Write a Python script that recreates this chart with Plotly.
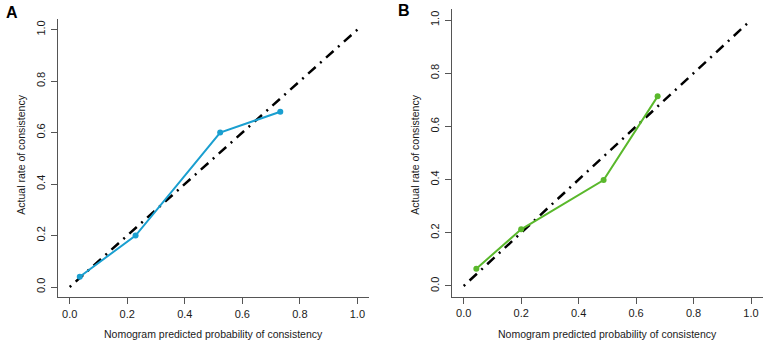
import plotly.graph_objects as go

# ---- data ----
a_pred = [0.035, 0.229, 0.523, 0.732]
a_actual = [0.040, 0.200, 0.600, 0.681]
b_pred = [0.044, 0.200, 0.487, 0.675]
b_actual = [0.065, 0.213, 0.398, 0.713]
ideal = [0.0, 1.0]
tick_vals = [0.0, 0.2, 0.4, 0.6, 0.8, 1.0]
tick_text = ["0.0", "0.2", "0.4", "0.6", "0.8", "1.0"]
panel_labels = ["A", "B"]
x_title = "Nomogram predicted probability of consistency"
y_title = "Actual rate of consistency"

W, H = 765, 345
FONT = "Liberation Sans, Arial, Helvetica, sans-serif"
BLUE = "#1a9fd0"
GREEN = "#5ab82c"
AXC = "#555555"

fig = go.Figure()

def px_x(p):
    return p / W

def px_y(p):
    return 1 - p / H

# panel geometry in pixels (left, right, top, bottom)
panels = [
    dict(l=58.2, r=368.9, t=19.3, b=297.3, xs=a_pred, ys=a_actual, color=BLUE, ax=""),
    dict(l=452.2, r=762.5, t=9.4, b=296.6, xs=b_pred, ys=b_actual, color=GREEN, ax="2"),
]

for i, p in enumerate(panels):
    xa = "x" + p["ax"]
    ya = "y" + p["ax"]
    fig.add_trace(go.Scatter(
        x=ideal, y=ideal, mode="lines", xaxis=xa, yaxis=ya,
        line=dict(color="black", width=2.5, dash="2px,6px,10px,6px"),
        showlegend=False, hoverinfo="skip"))
    fig.add_trace(go.Scatter(
        x=p["xs"], y=p["ys"], mode="lines+markers", xaxis=xa, yaxis=ya,
        line=dict(color=p["color"], width=2),
        marker=dict(color=p["color"], size=6),
        showlegend=False))
    axis_common = dict(
        range=[-0.04, 1.04], tickvals=tick_vals, ticktext=tick_text,
        showgrid=False, zeroline=False, showline=True, linecolor=AXC, linewidth=1.3,
        ticks="outside", ticklen=6, tickwidth=1.2, tickcolor=AXC,
        tickfont=dict(family=FONT, size=11, color="#1a1a1a"), mirror=False,
    )
    xkey = "xaxis" + p["ax"]
    ykey = "yaxis" + p["ax"]
    fig.update_layout({
        xkey: dict(axis_common, domain=[px_x(p["l"]), px_x(p["r"])], anchor=ya),
        ykey: dict(axis_common, domain=[px_y(p["b"]), px_y(p["t"])], anchor=xa,
                   tickangle=-90, ticklabelstandoff=2),
    })
    cx = (p["l"] + p["r"]) / 2
    fig.add_annotation(x=px_x(cx), y=px_y(334), xref="paper", yref="paper",
                       text=x_title, showarrow=False,
                       font=dict(family=FONT, size=10.5, color="#1a1a1a"),
                       xanchor="center", yanchor="middle")
    fig.add_annotation(x=px_x(p["l"] - 37.5), y=px_y(155), xref="paper", yref="paper",
                       text=y_title, showarrow=False, textangle=-90,
                       font=dict(family=FONT, size=10.5, color="#1a1a1a"),
                       xanchor="center", yanchor="middle")

fig.add_annotation(x=px_x(12), y=px_y(13), xref="paper", yref="paper",
                   text="<b>" + panel_labels[0] + "</b>", showarrow=False,
                   font=dict(family=FONT, size=16, color="black"),
                   xanchor="center", yanchor="middle")
fig.add_annotation(x=px_x(404), y=px_y(11), xref="paper", yref="paper",
                   text="<b>" + panel_labels[1] + "</b>", showarrow=False,
                   font=dict(family=FONT, size=16, color="black"),
                   xanchor="center", yanchor="middle")

fig.update_layout(
    width=W, height=H, margin=dict(l=0, r=0, t=0, b=0),
    paper_bgcolor="white", plot_bgcolor="white",
    font=dict(family=FONT),
)

fig.write_html(
    "out.html",
    config={"displayModeBar": False},
    post_script="document.body.style.margin='0';document.body.style.padding='0';"
                "document.body.style.overflow='hidden';",
)
